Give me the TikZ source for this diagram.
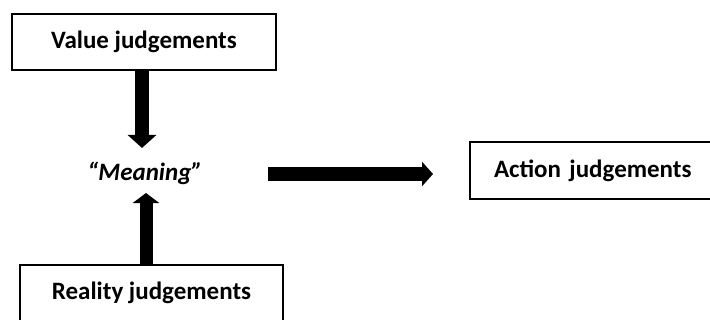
\documentclass[tikz,border=0pt]{standalone}
\usepackage{fontspec}
\setmainfont{Carlito}
\usetikzlibrary{arrows.meta}
\begin{document}
\begin{tikzpicture}[x=0.5pt,y=-0.5pt,
  judgebox/.style={draw=black,line width=1pt,inner sep=0pt,
    font=\fontsize{12.5}{15}\selectfont\bfseries},
  bigarrow/.style={line width=#1,line cap=butt},
]
\clip (0,0) rectangle (710,320);
\fill[white] (0,0) rectangle (710,320);
\node[judgebox,minimum width=132pt,minimum height=28pt] (value) at (144,42) {Value judgements};
\node[judgebox,minimum width=131.5pt,minimum height=28pt] (reality) at (151.5,293) {Reality judgements};
\node[judgebox,anchor=west,minimum height=28pt,inner xsep=12pt,text width=115pt,align=left] (action) at (469,170.5) {Action judgements};
\node[font=\fontsize{12.5}{15}\selectfont\bfseries\itshape,inner sep=0pt] (meaning) at (145,173) {“Meaning”};
\coordinate (dtip) at (142,148);
\coordinate (utip) at (146,193);
\coordinate (hstart) at (268,174);
\coordinate (htip) at (433,174);
\draw[bigarrow=7pt,-{Triangle[width=14pt,length=6.5pt]}] (value.south -| dtip) -- (dtip);
\draw[bigarrow=6.5pt,-{Triangle[width=13pt,length=5pt]}] (reality.north -| utip) -- (utip);
\draw[bigarrow=6.5pt,-{Triangle[width=12pt,length=5.5pt]}] (hstart) -- (htip);
\end{tikzpicture}
\end{document}
